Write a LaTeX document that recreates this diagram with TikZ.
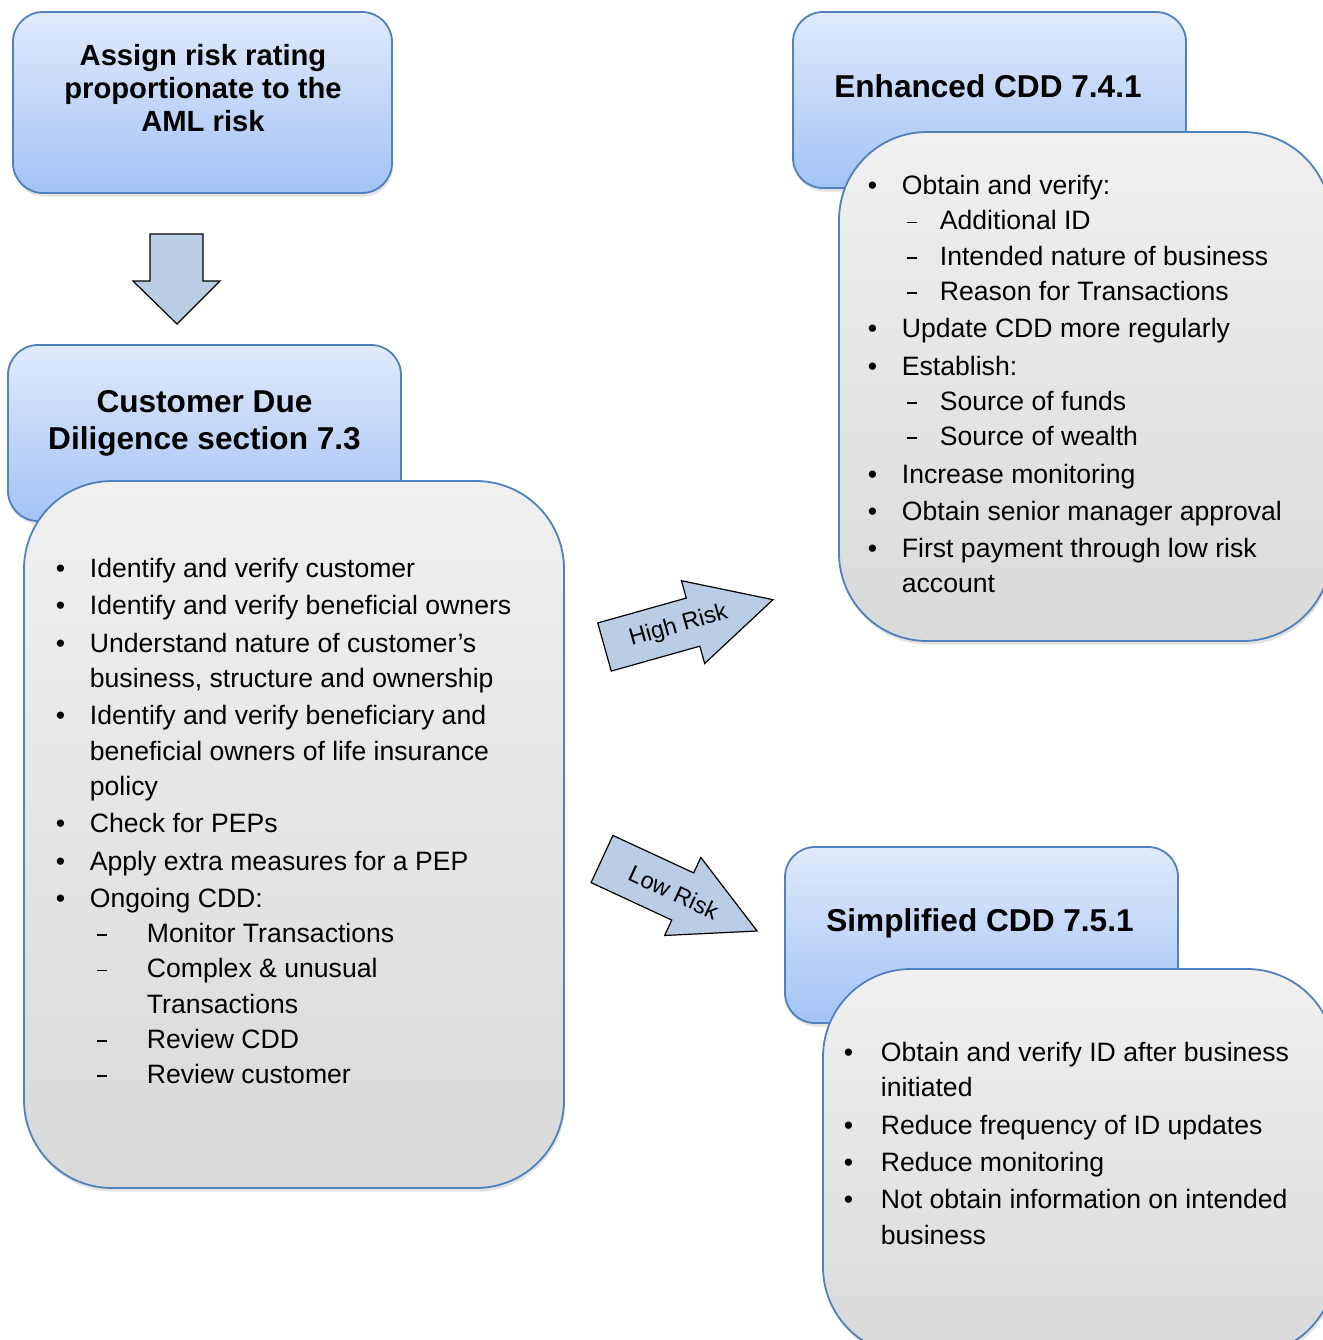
\documentclass[tikz,border=0pt]{standalone}
\usepackage{fontspec}
\setmainfont{Liberation Sans}
\usetikzlibrary{fit,shadows}

\definecolor{hdrtop}{HTML}{E0EAFC}
\definecolor{hdrbot}{HTML}{A3C3F5}
\definecolor{edgeblue}{HTML}{4F81BD}
\definecolor{bodytop}{HTML}{F0F0F0}
\definecolor{bodybot}{HTML}{D9D9D9}
\definecolor{arrfill}{HTML}{B9CDE5}

\newcommand{\bul}[1][17pt]{\makebox[#1][l]{\textbullet}}
\newcommand{\ind}[1]{\hspace*{#1}}
\newcommand{\subd}[2]{\hspace*{#1}\makebox[#2][l]{\rule[0.25em]{5pt}{0.9pt}}}

\tikzset{
  hdr/.style={draw=edgeblue, line width=0.9pt, rounded corners=15pt,
    top color=hdrtop, bottom color=hdrbot, inner sep=0pt,
    drop shadow={opacity=0.22, shadow xshift=0.6pt, shadow yshift=-1.8pt}},
  body/.style={draw=edgeblue, line width=0.9pt, rounded corners=44pt,
    top color=bodytop, bottom color=bodybot, inner sep=0pt,
    drop shadow={opacity=0.22, shadow xshift=0.6pt, shadow yshift=-1.8pt}},
  title/.style={font=\bfseries\fontsize{15.8}{18.5}\selectfont, align=center, inner sep=0pt},
  list/.style={font=\fontsize{13.3}{17.65}\selectfont, align=left, anchor=north west, inner sep=0pt},
  blockarr/.style={draw=black, line width=0.6pt, fill=arrfill, line join=miter},
  arrtxt/.style={font=\fontsize{11.8}{14}\selectfont, transform shape, inner sep=0pt}
}

\begin{document}
\begin{tikzpicture}[x=0.5pt, y=-0.5pt]
  \useasboundingbox (0,0) rectangle (1323,1340);
  \clip (0,0) rectangle (1323,1340);

  \node[hdr, fit={(13,12) (392,193)}] (assign) {};
  \node[title, font=\bfseries\fontsize{14.6}{16.5}\selectfont] (assigntxt) at (203,88.5)
    {Assign risk rating\\proportionate to the\\AML risk};

  \draw[blockarr] (150,234) -- (203,234) -- (203,281) -- (220,281) -- (177,324)
    -- (133,281) -- (150,281) -- cycle;

  \node[hdr, fit={(8,345) (401,521)}] (cdd) {};
  \node[title] (cddtxt) at (204.5,423.5) {Customer Due\\Diligence section 7.3};
  \node[body, fit={(24,481) (564,1188)}] (cddbody) {};
  \node[list] (cddlist) at (55.5,558) {%
    \bul Identify and verify customer\\[1pt]
    \bul Identify and verify beneficial owners\\[1pt]
    \bul Understand nature of customer’s\\
    \ind{17pt}business, structure and ownership\\[1pt]
    \bul Identify and verify beneficiary and\\
    \ind{17pt}beneficial owners of life insurance\\
    \ind{17pt}policy\\[1pt]
    \bul Check for PEPs\\[1pt]
    \bul Apply extra measures for a PEP\\[1pt]
    \bul Ongoing CDD:\\
    \subd{20.5pt}{25pt}Monitor Transactions\\
    \subd{20.5pt}{25pt}Complex \& unusual\\
    \ind{45.5pt}Transactions\\
    \subd{20.5pt}{25pt}Review CDD\\
    \subd{20.5pt}{25pt}Review customer};

  \node[hdr, fit={(793,12) (1186,188)}] (enh) {};
  \node[title] (enhtxt) at (988,86) {Enhanced CDD 7.4.1};
  \node[body, fit={(839,132) (1331,641)}] (enhbody) {};
  \node[list] (enhlist) at (867.5,175) {%
    \bul Obtain and verify:\\
    \subd{19.5pt}{16.5pt}Additional ID\\
    \subd{19.5pt}{16.5pt}Intended nature of business\\
    \subd{19.5pt}{16.5pt}Reason for Transactions\\[1pt]
    \bul Update CDD more regularly\\[1pt]
    \bul Establish:\\
    \subd{19.5pt}{16.5pt}Source of funds\\
    \subd{19.5pt}{16.5pt}Source of wealth\\[1pt]
    \bul Increase monitoring\\[1pt]
    \bul Obtain senior manager approval\\[1pt]
    \bul First payment through low risk\\
    \ind{17pt}account};

  \node[hdr, fit={(785,847) (1178,1023)}] (simp) {};
  \node[title] (simptxt) at (980,923.5) {Simplified CDD 7.5.1};
  \node[body, fit={(823,969) (1335,1355)}] (simpbody) {};
  \node[list] (simplist) at (843.5,1042) {%
    \bul[18.5pt]Obtain and verify ID after business\\
    \ind{18.5pt}initiated\\[1pt]
    \bul[18.5pt]Reduce frequency of ID updates\\[1pt]
    \bul[18.5pt]Reduce monitoring\\[1pt]
    \bul[18.5pt]Not obtain information on intended\\
    \ind{18.5pt}business};

  \begin{scope}[shift={(604.5,647)}, rotate=15.7]
    \draw[blockarr] (0,-25) -- (92,-25) -- (92,-43) -- (175,0) -- (92,43)
      -- (92,25) -- (0,25) -- cycle;
    \node[arrtxt] (hightxt) at (77,0) {High Risk};
  \end{scope}

  \begin{scope}[shift={(602,859)}, rotate=-24.9]
    \draw[blockarr] (0,-26) -- (89,-26) -- (89,-43) -- (171,0) -- (89,43)
      -- (89,26) -- (0,26) -- cycle;
    \node[arrtxt] (lowtxt) at (79,0) {Low Risk};
  \end{scope}
\end{tikzpicture}
\end{document}
